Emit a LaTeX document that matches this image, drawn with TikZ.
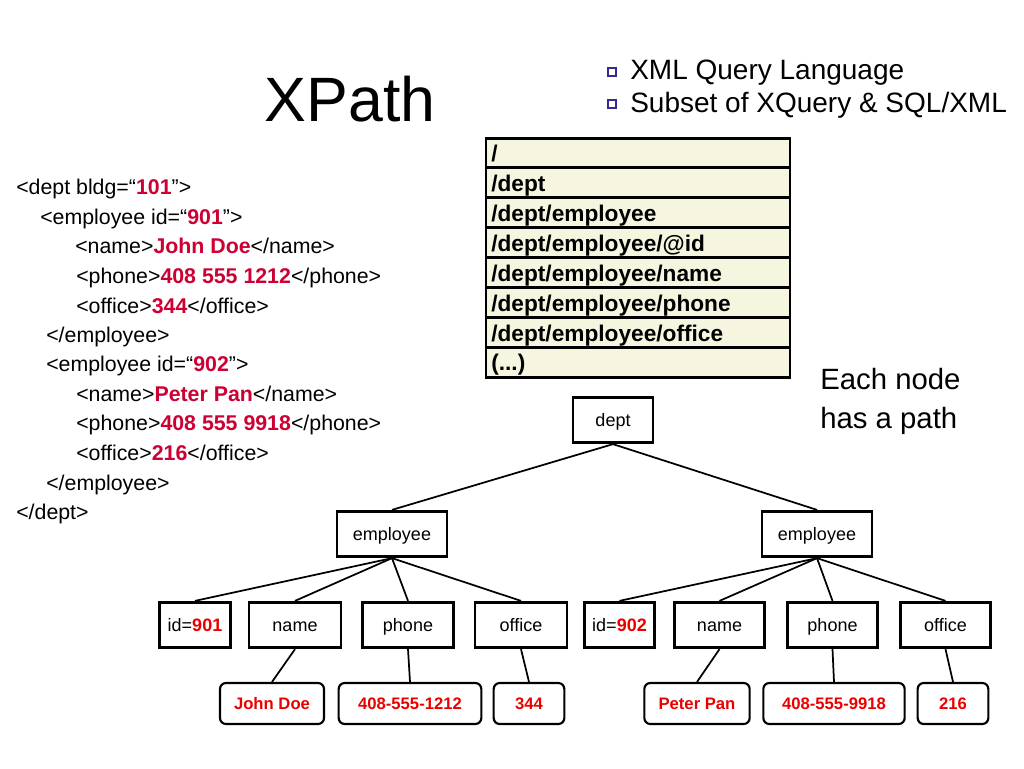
\documentclass[tikz,border=0pt]{standalone}
\usepackage{fontspec}
\setmainfont{Liberation Sans}
\usepackage{tikz}
\usetikzlibrary{shapes,positioning,calc}
\definecolor{xmlred}{RGB}{204,0,51}
\definecolor{valred}{RGB}{235,0,0}
\definecolor{rowfill}{RGB}{245,245,224}
\definecolor{bulletblue}{RGB}{52,44,140}
\newcommand{\xmlval}[1]{\textcolor{xmlred}{\bfseries #1}}
\tikzstyle{xmlline} = [anchor=base west, inner sep=0pt, font=\fontsize{16}{19}\selectfont]
\tikzstyle{pathrow} = [rectangle, draw=black, line width=2.2pt, fill=rowfill, minimum width=228pt, minimum height=22.4pt, text width=220pt, text height=14pt, text depth=1pt, align=left, inner xsep=4pt, inner ysep=0pt, font=\bfseries\fontsize{17}{20}\selectfont]
\tikzstyle{elem} = [rectangle, draw=black, line width=2.2pt, minimum height=34pt, text height=11pt, text depth=1pt, inner sep=0pt, font=\fontsize{13.5}{16}\selectfont]
\tikzstyle{leaf} = [rectangle, rounded corners=4.5pt, draw=black, line width=1.6pt, minimum height=30.75pt, text height=10.5pt, text depth=1.1pt, inner sep=0pt, text=valred, font=\bfseries\fontsize{12.5}{15}\selectfont]
\tikzstyle{bullet} = [rectangle, draw=bulletblue, line width=1.3pt, minimum size=5.8pt, inner sep=0pt]
\tikzstyle{edge} = [line width=1.3pt]

\begin{document}
\begin{tikzpicture}[x=0.75pt, y=-0.75pt]
	\useasboundingbox (0,0) rectangle (1024,768);
	% title and bullets
	\node (title) at (350,99) [font=\fontsize{47}{56}\selectfont] {XPath};
	\node (b1) at (612,72) [bullet] {};
	\node (t1) at (630,79) [anchor=base west, inner sep=0pt, font=\fontsize{21}{25}\selectfont] {XML Query Language};
	\node (b2) at (612,104) [bullet] {};
	\node (t2) at (630,112) [anchor=base west, inner sep=0pt, font=\fontsize{21}{25}\selectfont] {Subset of XQuery \& SQL/XML};
	% xml document
	\node (x1) at (16,194) [xmlline] {<dept bldg=“\xmlval{101}”>};
	\node (x2) at (40,224) [xmlline] {<employee id=“\xmlval{901}”>};
	\node (x3) at (75,253) [xmlline] {<name>\xmlval{John Doe}</name>};
	\node (x4) at (76,283) [xmlline] {<phone>\xmlval{408 555 1212}</phone>};
	\node (x5) at (76,313) [xmlline] {<office>\xmlval{344}</office>};
	\node (x6) at (46,342) [xmlline] {</employee>};
	\node (x7) at (46,371) [xmlline] {<employee id=“\xmlval{902}”>};
	\node (x8) at (76,401) [xmlline] {<name>\xmlval{Peter Pan}</name>};
	\node (x9) at (76,430) [xmlline] {<phone>\xmlval{408 555 9918}</phone>};
	\node (x10) at (76,460) [xmlline] {<office>\xmlval{216}</office>};
	\node (x11) at (46,490) [xmlline] {</employee>};
	\node (x12) at (16,519) [xmlline] {</dept>};
	% path table
	\node (proot) at (638,153) [pathrow] {/};
	\node (pdept) at (638,182.9) [pathrow] {/dept};
	\node (pemp) at (638,212.8) [pathrow] {/dept/employee};
	\node (pid) at (638,242.7) [pathrow] {/dept/employee/@id};
	\node (pname) at (638,272.6) [pathrow] {/dept/employee/name};
	\node (pphone) at (638,302.5) [pathrow] {/dept/employee/phone};
	\node (poffice) at (638,332.4) [pathrow] {/dept/employee/office};
	\node (pmore) at (638,362.3) [pathrow] {(...)};
	\node (e1) at (820,389) [anchor=base west, inner sep=0pt, font=\fontsize{22}{26}\selectfont] {Each node};
	\node (e2) at (820,428) [anchor=base west, inner sep=0pt, font=\fontsize{22}{26}\selectfont] {has a path};
	% tree
	\node (dept) at (613,420) [elem, minimum width=60pt] {dept};
	\node (empa) at (392,534) [elem, minimum width=82.5pt] {employee};
	\node (empb) at (817,534) [elem, minimum width=82.5pt] {employee};
	\node (ida) at (195,625) [elem, minimum width=53pt] {id=\textcolor{valred}{\bfseries 901}};
	\node (namea) at (295,625) [elem, minimum width=69pt] {name};
	\node (phonea) at (408,625) [elem, minimum width=68pt] {phone};
	\node (officea) at (521,625) [elem, minimum width=69pt] {office};
	\node (idb) at (619.5,625) [elem, minimum width=53pt] {id=\textcolor{valred}{\bfseries 902}};
	\node (nameb) at (719.5,625) [elem, minimum width=68pt] {name};
	\node (phoneb) at (832.5,625) [elem, minimum width=68pt] {phone};
	\node (officeb) at (945.5,625) [elem, minimum width=68pt] {office};
	\node (vnamea) at (272,703.5) [leaf, minimum width=78pt] {John Doe};
	\node (vphonea) at (410,703.5) [leaf, minimum width=107pt] {408-555-1212};
	\node (vofficea) at (529,703.5) [leaf, minimum width=53pt] {344};
	\node (vnameb) at (697,703.5) [leaf, minimum width=79pt] {Peter Pan};
	\node (vphoneb) at (834,703.5) [leaf, minimum width=106pt] {408-555-9918};
	\node (vofficeb) at (953,703.5) [leaf, minimum width=53pt] {216};
	\draw[edge] (dept.south) -- (empa.north);
	\draw[edge] (dept.south) -- (empb.north);
	\draw[edge] (empa.south) -- (ida.north);
	\draw[edge] (empa.south) -- (namea.north);
	\draw[edge] (empa.south) -- (phonea.north);
	\draw[edge] (empa.south) -- (officea.north);
	\draw[edge] (empb.south) -- (idb.north);
	\draw[edge] (empb.south) -- (nameb.north);
	\draw[edge] (empb.south) -- (phoneb.north);
	\draw[edge] (empb.south) -- (officeb.north);
	\draw[edge] (namea.south) -- (vnamea.north);
	\draw[edge] (phonea.south) -- (vphonea.north);
	\draw[edge] (officea.south) -- (vofficea.north);
	\draw[edge] (nameb.south) -- (vnameb.north);
	\draw[edge] (phoneb.south) -- (vphoneb.north);
	\draw[edge] (officeb.south) -- (vofficeb.north);
\end{tikzpicture}
\end{document}
